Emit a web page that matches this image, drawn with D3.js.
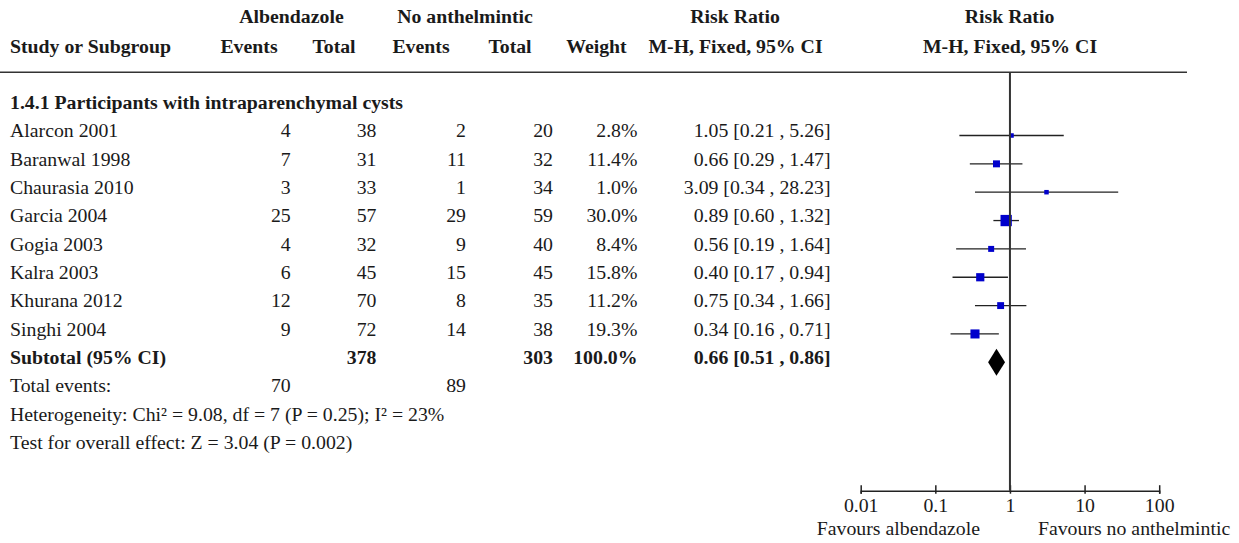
<!DOCTYPE html>
<html>
<head>
<meta charset="utf-8">
<script src="https://cdn.jsdelivr.net/npm/d3@7"></script>
<style>
  html, body { margin: 0; padding: 0; background: #fff; }
  svg text { font-family: "Liberation Serif", "Times New Roman", serif; font-size: 19.8px; fill: #1a1a1a; }
  .b { font-weight: bold; }
</style>
</head>
<body>
<svg id="chart" width="1239" height="543"></svg>
<script>
const studies   = ["Alarcon 2001","Baranwal 1998","Chaurasia 2010","Garcia 2004","Gogia 2003","Kalra 2003","Khurana 2012","Singhi 2004"];
const eventsAlb = [4, 7, 3, 25, 4, 6, 12, 9];
const totalAlb  = [38, 31, 33, 57, 32, 45, 70, 72];
const eventsNo  = [2, 11, 1, 29, 9, 15, 8, 14];
const totalNo   = [20, 32, 34, 59, 40, 45, 35, 38];
const weights   = [2.8, 11.4, 1.0, 30.0, 8.4, 15.8, 11.2, 19.3];
const rr        = [1.05, 0.66, 3.09, 0.89, 0.56, 0.40, 0.75, 0.34];
const ciLow     = [0.21, 0.29, 0.34, 0.60, 0.19, 0.17, 0.34, 0.16];
const ciHigh    = [5.26, 1.47, 28.23, 1.32, 1.64, 0.94, 1.66, 0.71];
const subtotal  = { totalAlb: 378, totalNo: 303, weight: 100.0, rr: 0.66, lo: 0.51, hi: 0.86 };
const totalEvents = [70, 89];
const axisTicks = [0.01, 0.1, 1, 10, 100];
const axisTickLabels = ["0.01", "0.1", "1", "10", "100"];
const groupTitle = "1.4.1 Participants with intraparenchymal cysts";
const heterogeneity = "Heterogeneity: Chi\u00B2 = 9.08, df = 7 (P = 0.25); I\u00B2 = 23%";
const overallEffect = "Test for overall effect: Z = 3.04 (P = 0.002)";
const favourLeft = "Favours albendazole";
const favourRight = "Favours no anthelmintic";

const svg = d3.select("#chart");
const x = d3.scaleLog().domain([0.01, 100]).range([860.7, 1159.2]);
const rowY = d3.scaleLinear().domain([0, 1]).range([137.3, 165.65]); // text baseline by row index
const markOff = -1.8;
const boxSize = d3.scaleSqrt().domain([0, 30]).range([0, 11.3]);
const f2 = v => v.toFixed(2);

// Column anchors
const col = { events1: 290.7, total1: 376.5, events2: 466, total2: 553, weight: 637.5, rr: 830.5 };

function txt(xp, yp, s, anchor, bold) {
  svg.append("text").attr("x", xp).attr("y", yp).attr("text-anchor", anchor || "start")
    .attr("class", bold ? "b" : null).text(s);
}

// Headers
txt(291.5, 23.3, "Albendazole", "middle", true);
txt(465, 23.3, "No anthelmintic", "middle", true);
txt(735, 23.3, "Risk Ratio", "middle", true);
txt(1009.5, 23.3, "Risk Ratio", "middle", true);
txt(10, 52.7, "Study or Subgroup", "start", true);
txt(249, 52.7, "Events", "middle", true);
txt(334, 52.7, "Total", "middle", true);
txt(421, 52.7, "Events", "middle", true);
txt(510, 52.7, "Total", "middle", true);
txt(596.5, 52.7, "Weight", "middle", true);
txt(735.5, 52.7, "M-H, Fixed, 95% CI", "middle", true);
txt(1010, 52.7, "M-H, Fixed, 95% CI", "middle", true);

// Top rule
svg.append("line").attr("x1", 0).attr("x2", 1187).attr("y1", 72.2).attr("y2", 72.2)
  .attr("stroke", "#333").attr("stroke-width", 1.6);

// Group title
txt(10, rowY(-1), groupTitle, "start", true);

// Study rows
studies.forEach((s, i) => {
  const y = rowY(i);
  txt(10, y, s);
  txt(col.events1, y, String(eventsAlb[i]), "end");
  txt(col.total1, y, String(totalAlb[i]), "end");
  txt(col.events2, y, String(eventsNo[i]), "end");
  txt(col.total2, y, String(totalNo[i]), "end");
  txt(col.weight, y, weights[i].toFixed(1) + "%", "end");
  txt(col.rr, y, `${f2(rr[i])} [${f2(ciLow[i])} , ${f2(ciHigh[i])}]`, "end");
});

// Subtotal
const ys = rowY(8);
txt(10, ys, "Subtotal (95% CI)", "start", true);
txt(col.total1, ys, String(subtotal.totalAlb), "end", true);
txt(col.total2, ys, String(subtotal.totalNo), "end", true);
txt(col.weight, ys, subtotal.weight.toFixed(1) + "%", "end", true);
txt(col.rr, ys, `${f2(subtotal.rr)} [${f2(subtotal.lo)} , ${f2(subtotal.hi)}]`, "end", true);

const yt = rowY(9);
txt(10, yt, "Total events:");
txt(col.events1, yt, String(totalEvents[0]), "end");
txt(col.events2, yt, String(totalEvents[1]), "end");
txt(10, rowY(10), heterogeneity);
txt(10, rowY(11), overallEffect);

// CI lines and boxes
const g = svg.append("g");
studies.forEach((s, i) => {
  const y = rowY(i) + markOff;
  g.append("line").attr("x1", x(ciLow[i])).attr("x2", x(ciHigh[i]))
    .attr("y1", y).attr("y2", y).attr("stroke", "#222").attr("stroke-width", 1.3);
  const sz = Math.max(4.5, boxSize(weights[i]));
  g.append("rect").attr("x", x(rr[i]) - sz / 2).attr("y", y - sz / 2)
    .attr("width", sz).attr("height", sz).attr("fill", "#0000cc");
});

// Diamond
const yd = rowY(8) + markOff;
g.append("path")
  .attr("d", `M${x(subtotal.lo)},${yd} L${x(subtotal.rr)},${yd - 13.5} L${x(subtotal.hi)},${yd} L${x(subtotal.rr)},${yd + 13.5} Z`)
  .attr("fill", "#000");

// Axis
const axisY = 490.7;
const ax = svg.append("g").attr("transform", `translate(0,${axisY})`)
  .call(d3.axisBottom(x).tickValues(axisTicks).tickFormat((d, i) => axisTickLabels[i]).tickSizeOuter(0).tickSize(3));
ax.select(".domain").attr("stroke", "#222").attr("stroke-width", 1.5);
ax.selectAll(".tick line").attr("y1", -5.5).attr("y2", 3).attr("stroke", "#222").attr("stroke-width", 1.5);
ax.selectAll(".tick text").attr("y", 21).attr("dy", null)
  .style("font-family", '"Liberation Serif", "Times New Roman", serif').style("font-size", "19.8px").attr("fill", "#1a1a1a");

// Null line
svg.append("line").attr("x1", x(1)).attr("x2", x(1)).attr("y1", 72.2).attr("y2", axisY)
  .attr("stroke", "#333").attr("stroke-width", 2);

txt(x(1) - 30, 535, favourLeft, "end");
txt(x(1) + 28, 535, favourRight, "start");
</script>
</body>
</html>
